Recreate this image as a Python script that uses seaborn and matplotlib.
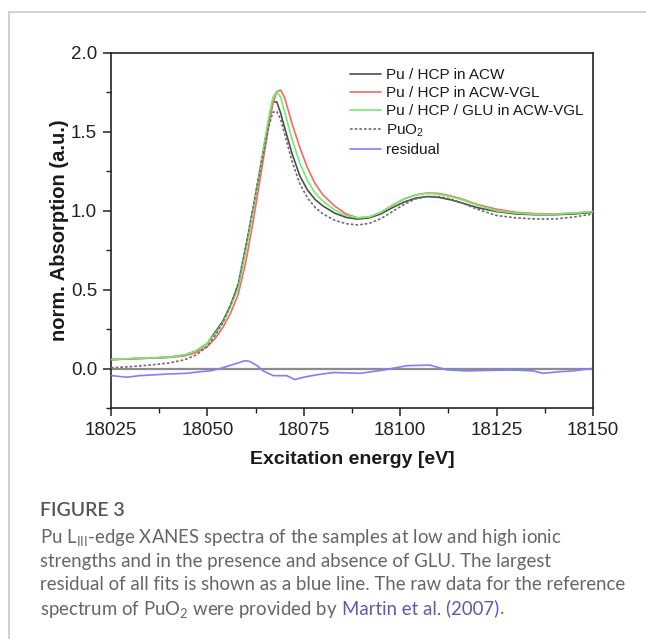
import numpy as np
import pandas as pd
import matplotlib
matplotlib.use("Agg")
import matplotlib.pyplot as plt
from matplotlib.lines import Line2D
from matplotlib.ticker import MultipleLocator
import seaborn as sns

# ---------------- data ----------------
energy = [18025, 18030, 18035, 18040, 18044, 18047, 18050, 18052, 18054, 18056,
          18058, 18060, 18062, 18064, 18065, 18066, 18067, 18068, 18069, 18070,
          18072, 18074, 18076, 18078, 18080, 18083, 18086, 18089, 18092, 18095,
          18098, 18101, 18104, 18107, 18110, 18113, 18116, 18120, 18125, 18130,
          18135, 18140, 18145, 18150]

acw = [0.057, 0.062, 0.066, 0.072, 0.085, 0.11, 0.16, 0.23, 0.30, 0.40,
       0.53, 0.77, 1.03, 1.31, 1.45, 1.58, 1.69, 1.69, 1.62, 1.53,
       1.36, 1.22, 1.13, 1.07, 1.03, 0.985, 0.958, 0.947, 0.955, 0.98,
       1.02, 1.055, 1.08, 1.09, 1.085, 1.07, 1.05, 1.02, 0.995, 0.98,
       0.975, 0.975, 0.98, 0.99]

acw_vgl = [0.055, 0.062, 0.066, 0.070, 0.080, 0.10, 0.14, 0.19, 0.26, 0.35,
           0.47, 0.68, 0.95, 1.25, 1.40, 1.55, 1.68, 1.755, 1.765, 1.72,
           1.55, 1.40, 1.27, 1.17, 1.10, 1.03, 0.98, 0.955, 0.96, 0.99,
           1.035, 1.075, 1.10, 1.113, 1.11, 1.095, 1.075, 1.04, 1.01, 0.99,
           0.982, 0.98, 0.985, 0.995]

glu_vgl = [0.058, 0.063, 0.067, 0.073, 0.086, 0.11, 0.16, 0.22, 0.29, 0.39,
           0.51, 0.75, 1.02, 1.31, 1.46, 1.60, 1.72, 1.755, 1.72, 1.63,
           1.45, 1.30, 1.19, 1.11, 1.06, 1.005, 0.97, 0.955, 0.962, 0.99,
           1.035, 1.075, 1.10, 1.11, 1.105, 1.09, 1.07, 1.035, 1.0, 0.985,
           0.978, 0.978, 0.985, 0.995]

puo2 = [0.005, 0.012, 0.022, 0.035, 0.055, 0.085, 0.14, 0.21, 0.29, 0.40,
        0.54, 0.78, 1.04, 1.30, 1.42, 1.54, 1.625, 1.63, 1.58, 1.49,
        1.31, 1.17, 1.08, 1.02, 0.98, 0.94, 0.918, 0.91, 0.92, 0.95,
        0.995, 1.04, 1.075, 1.09, 1.09, 1.075, 1.05, 1.01, 0.97, 0.955,
        0.948, 0.948, 0.96, 0.98]

res_energy = [18025.2, 18029.1, 18032.5, 18039.4, 18044.6, 18048.1, 18050.7,
              18053.3, 18056.7, 18059.8, 18061.0, 18062.8, 18064.5, 18067.1,
              18070.6, 18072.7, 18074.9, 18078.3, 18082.7, 18089.6, 18095.6,
              18101.7, 18107.7, 18112.1, 18117.2, 18125.9, 18130.2, 18134.5,
              18137.1, 18141.4, 18144.9, 18149.7]
residual = [-0.045, -0.055, -0.045, -0.035, -0.030, -0.020, -0.015,
            0.0, 0.026, 0.050, 0.045, 0.020, -0.015, -0.045,
            -0.045, -0.070, -0.055, -0.040, -0.025, -0.030, -0.010,
            0.018, 0.022, -0.008, -0.015, -0.010, -0.010, -0.015,
            -0.030, -0.020, -0.015, 0.0]

labels = ["Pu / HCP in ACW", "Pu / HCP in ACW-VGL", "Pu / HCP / GLU in ACW-VGL",
          r"PuO$\mathregular{_2}$", "residual"]
x_ticks = [18025, 18050, 18075, 18100, 18125, 18150]
y_ticks = [0.0, 0.5, 1.0, 1.5, 2.0]

# ---------------- styling ----------------
sns.set_theme(style="ticks")
plt.rcParams["font.family"] = ["Liberation Sans", "DejaVu Sans"]
plt.rcParams["axes.linewidth"] = 1.2

fig = plt.figure(figsize=(6.46, 6.39), dpi=100)
fig.patch.set_facecolor("white")
ax = fig.add_axes([0.1718, 0.3615, 0.746, 0.5556])
ax.set_facecolor("white")

# zero reference line
ax.axhline(0.0, color="#8c8c8c", lw=1.6, zorder=1)

series = [
    (acw, labels[0], "#4d4d4d", "-"),
    (acw_vgl, labels[1], "#ff6464", "-"),
    (glu_vgl, labels[2], "#6ef06e", "-"),
    (puo2, labels[3], "#6e6e6e", (0, (1.6, 1.2))),
]
for vals, lab, col, ls in series:
    df = pd.DataFrame({"E": energy, "A": vals})
    sns.lineplot(data=df, x="E", y="A", ax=ax, color=col, lw=1.2,
                 linestyle=ls, label=lab, zorder=3)
dfr = pd.DataFrame({"E": res_energy, "A": residual})
sns.lineplot(data=dfr, x="E", y="A", ax=ax, color="#7f7fff", lw=1.2,
             label=labels[4], zorder=3)

ax.set_xlim(18025, 18150)
ax.set_ylim(-0.25, 2.0)
ax.set_xticks(x_ticks)
ax.set_yticks(y_ticks)
ax.set_yticklabels([f"{v:.1f}" for v in y_ticks])
ax.xaxis.set_minor_locator(MultipleLocator(12.5))
ax.yaxis.set_minor_locator(MultipleLocator(0.25))
ax.tick_params(axis="both", which="major", direction="out", length=6, width=1.1,
               labelsize=13.5, colors="#222222", pad=4)
ax.tick_params(axis="both", which="minor", direction="out", length=3.5, width=1.0,
               colors="#222222")
ax.tick_params(top=False, right=False, which="both")
for s in ax.spines.values():
    s.set_visible(True)
    s.set_color("#222222")
    s.set_linewidth(1.2)

ax.set_xlabel("Excitation energy [eV]", fontsize=14, fontweight="bold",
              color="#1a1a1a", labelpad=9)
ax.set_ylabel("norm. Absorption (a.u.)", fontsize=14.5, fontweight="bold",
              color="#1a1a1a", labelpad=1)

handles = [Line2D([], [], color=c, lw=1.2, linestyle=l) for _, _, c, l in series]
handles.append(Line2D([], [], color="#7f7fff", lw=1.2))
leg = ax.legend(handles, labels, loc="upper left", bbox_to_anchor=(0.496, 0.957),
                frameon=False, fontsize=11, handlelength=2.0, handletextpad=0.35,
                labelspacing=0.27, borderpad=0, borderaxespad=0)
for t in leg.get_texts():
    t.set_color("#1a1a1a")

# ---------------- card frame ----------------
fig.add_artist(Line2D([9 / 646, 1.0], [1 - 12 / 639, 1 - 12 / 639],
                      transform=fig.transFigure, color="#c8c8c8", lw=1.2))
fig.add_artist(Line2D([9 / 646, 9 / 646], [1 - 12 / 639, 0.0],
                      transform=fig.transFigure, color="#c8c8c8", lw=1.2))

# ---------------- caption ----------------
cap_font = ["Lato", "DejaVu Sans"]
cap_col = "#666666"
cap_size = 13.4
x0 = 40 / 646
fig.text(x0, 1 - 511 / 639, "FIGURE 3", family=cap_font, fontsize=14,
         fontweight="semibold", color="#555555", va="center", ha="left")
lines = [
    r"Pu L$\mathregular{_{III}}$-edge XANES spectra of the samples at low and high ionic",
    "strengths and in the presence and absence of GLU. The largest",
    "residual of all fits is shown as a blue line. The raw data for the reference",
]
ys = [537, 561, 585]
for s, yy in zip(lines, ys):
    fig.text(x0, 1 - yy / 639, s, family=cap_font, fontsize=cap_size, color=cap_col,
             va="center", ha="left")
t1 = fig.text(x0, 1 - 609 / 639, r"spectrum of PuO$\mathregular{_2}$ were provided by",
              family=cap_font, fontsize=cap_size, color=cap_col, va="center", ha="left")
t2 = fig.text(0, 0, "Martin et al. (2007)", family=cap_font, fontsize=cap_size,
              color="#5b5bb0", va="baseline", ha="left")
t3 = fig.text(0, 0, ".", family=cap_font, fontsize=cap_size, color=cap_col,
              va="baseline", ha="left")

fig.canvas.draw()
r = fig.canvas.get_renderer()
bb1 = t1.get_window_extent(r)
x_base, y_base = t1.get_transform().transform(t1.get_position())
tmp = fig.text(x0, 1 - 609 / 639, "spectrum", family=cap_font, fontsize=cap_size,
               va="center", ha="left")
tmp_bb = tmp.get_window_extent(r)
tmp.set_va("baseline")
fig.canvas.draw()
tmp_bb2 = tmp.get_window_extent(r)
shift = tmp_bb.y0 - tmp_bb2.y0
tmp.remove()
baseline_px = y_base + shift
space_px = 0.26 * cap_size * 100 / 72
inv = fig.transFigure.inverted()
t2.set_position(inv.transform((bb1.x1 + space_px, baseline_px)))
fig.canvas.draw()
bb2 = t2.get_window_extent(r)
t3.set_position(inv.transform((bb2.x1, baseline_px)))

fig.savefig("out.png", dpi=100, facecolor="white")
